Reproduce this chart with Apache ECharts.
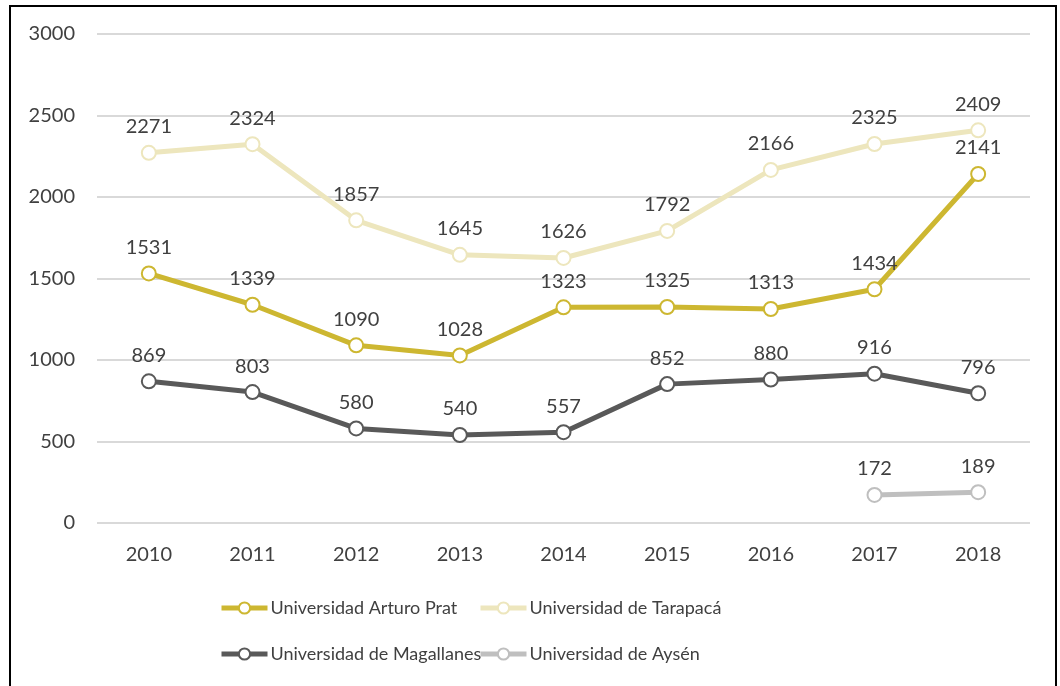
<!DOCTYPE html>
<html>
<head>
<meta charset="utf-8">
<script src="https://cdn.jsdelivr.net/npm/echarts@6/dist/echarts.min.js"></script>
<style>
  html, body { margin: 0; padding: 0; background: #fff; }
  #chart { width: 1060px; height: 686px; }
</style>
</head>
<body>
<div id="chart"></div>
<script>
const years = ['2010', '2011', '2012', '2013', '2014', '2015', '2016', '2017', '2018'];
const arturoPrat = [1531, 1339, 1090, 1028, 1323, 1325, 1313, 1434, 2141];
const tarapaca = [2271, 2324, 1857, 1645, 1626, 1792, 2166, 2325, 2409];
const magallanes = [869, 803, 580, 540, 557, 852, 880, 916, 796];
const aysen = [null, null, null, null, null, null, null, 172, 189];

const font = 'Lato, "Open Sans", sans-serif';
const textColor = '#404040';

const makeSeries = (name, data, color) => ({
  name,
  type: 'line',
  data,
  symbol: 'circle',
  symbolSize: 14,
  lineStyle: { color, width: 5 },
  itemStyle: { color: '#ffffff', borderColor: color, borderWidth: 2 },
  label: {
    show: true,
    position: 'top',
    distance: 8,
    fontFamily: font,
    fontSize: 20,
    color: textColor
  },
  emphasis: { disabled: true }
});

const legendBase = {
  orient: 'vertical',
  top: 594,
  itemWidth: 46,
  itemHeight: 14,
  itemGap: 28,
  lineStyle: { width: 5 },
  textStyle: { fontFamily: font, fontSize: 18, color: textColor, padding: [0, 0, 0, -2] }
};

const chart = echarts.init(document.getElementById('chart'));

const option = {
  backgroundColor: '#ffffff',
  animation: false,
  textStyle: { fontFamily: font },
  graphic: [{
    type: 'rect',
    shape: { x: 10, y: 6, width: 1046, height: 700 },
    style: { fill: 'none', stroke: '#000', lineWidth: 2 },
    silent: true
  }],
  grid: { left: 97, right: 30, top: 34, bottom: 163 },
  legend: [
    Object.assign({}, legendBase, {
      data: ['Universidad Arturo Prat', 'Universidad de Magallanes'],
      left: 214
    }),
    Object.assign({}, legendBase, {
      data: ['Universidad de Tarapacá', 'Universidad de Aysén'],
      left: 473
    })
  ],
  xAxis: {
    type: 'category',
    data: years,
    boundaryGap: true,
    axisLine: { show: false },
    axisTick: { show: false },
    axisLabel: { fontFamily: font, fontSize: 20, color: textColor, margin: 22 }
  },
  yAxis: {
    type: 'value',
    min: 0,
    max: 3000,
    interval: 500,
    axisLine: { show: false },
    axisTick: { show: false },
    axisLabel: {
      fontFamily: font,
      fontSize: 20,
      color: textColor,
      margin: 22,
      formatter: (v) => String(v)
    },
    splitLine: { lineStyle: { color: '#d9d9d9', width: 2 } }
  },
  series: [
    makeSeries('Universidad Arturo Prat', arturoPrat, '#cdb731'),
    makeSeries('Universidad de Tarapacá', tarapaca, '#ede6bd'),
    makeSeries('Universidad de Magallanes', magallanes, '#595959'),
    makeSeries('Universidad de Aysén', aysen, '#bfbfbf')
  ]
};

chart.setOption(option);
</script>
</body>
</html>
